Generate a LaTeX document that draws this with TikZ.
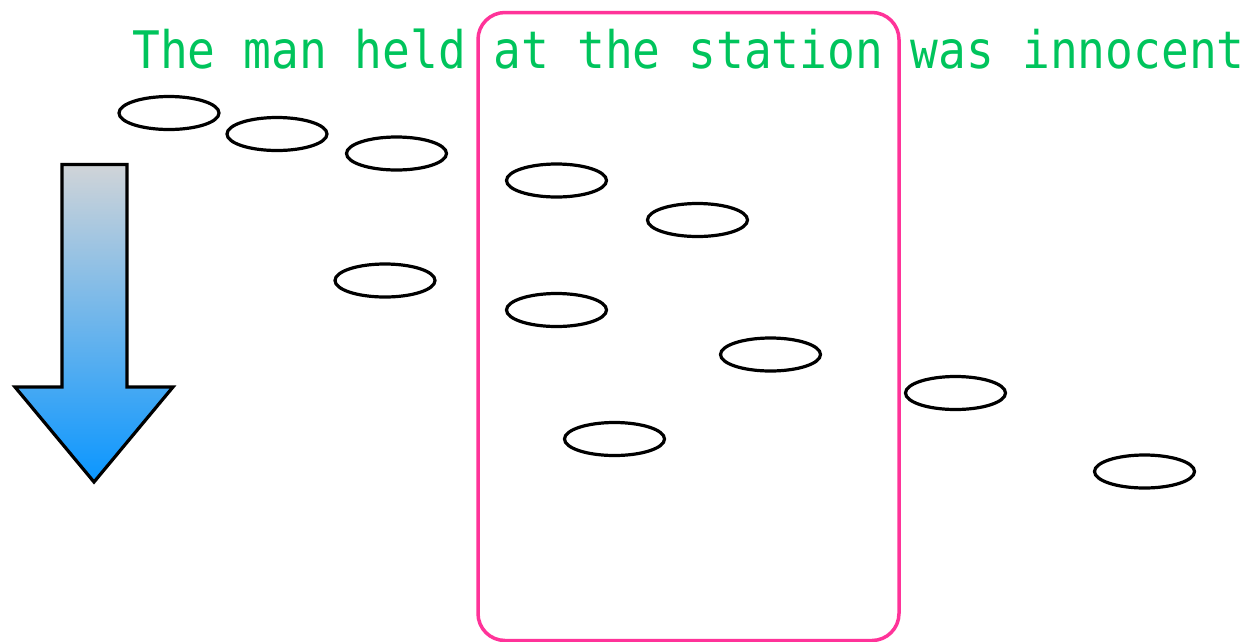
\documentclass[tikz,border=0pt]{standalone}
\usepackage{fontspec}
\newfontfamily\monofont{DejaVu Sans Mono}
\usetikzlibrary{shapes.geometric}
\definecolor{txtgreen}{RGB}{0,196,92}
\definecolor{boxpink}{RGB}{255,51,153}
\definecolor{arrtop}{RGB}{208,212,216}
\definecolor{arrbot}{RGB}{10,150,255}
\tikzset{
  word/.style={draw=black, line width=3.2pt, ellipse, minimum width=100pt, minimum height=33pt, inner sep=0pt},
  frame/.style={draw=boxpink, line width=3.5pt, rounded corners=27pt},
}
\begin{document}
\begin{tikzpicture}[x=1pt,y=-1pt]
\useasboundingbox (0,0) rectangle (1251,641);
% highlight frame
\begin{scope}
\clip (0,0) rectangle (1251,641);
\draw[frame] (478,12.5) rectangle (899,640.5);
\end{scope}
% sentence
\node[anchor=base west, inner sep=0pt, text=txtgreen, font=\monofont\fontsize{46.2}{46}\selectfont] (sent) at (132,68) {\scalebox{1}[1.12]{The man held at the station was innocent}};
% ellipses
\node[word] (e1) at (169,113) {};
\node[word] (e2) at (277,134) {};
\node[word] (e3) at (396.5,153.5) {};
\node[word] (e4) at (556.5,180.5) {};
\node[word] (e5) at (697.5,220) {};
\node[word] (e6) at (385,280.5) {};
\node[word] (e7) at (556.5,310) {};
\node[word] (e8) at (770.5,354.5) {};
\node[word] (e9) at (955.5,393) {};
\node[word] (e10) at (614.5,439) {};
\node[word] (e11) at (1144.5,471.5) {};
% big arrow
\draw[line width=3.2pt, line join=miter, top color=arrtop, bottom color=arrbot]
  (62,164.5) -- (127,164.5) -- (127,387) -- (173,387) -- (94,482) -- (15,387) -- (62,387) -- cycle;
\end{tikzpicture}
\end{document}
